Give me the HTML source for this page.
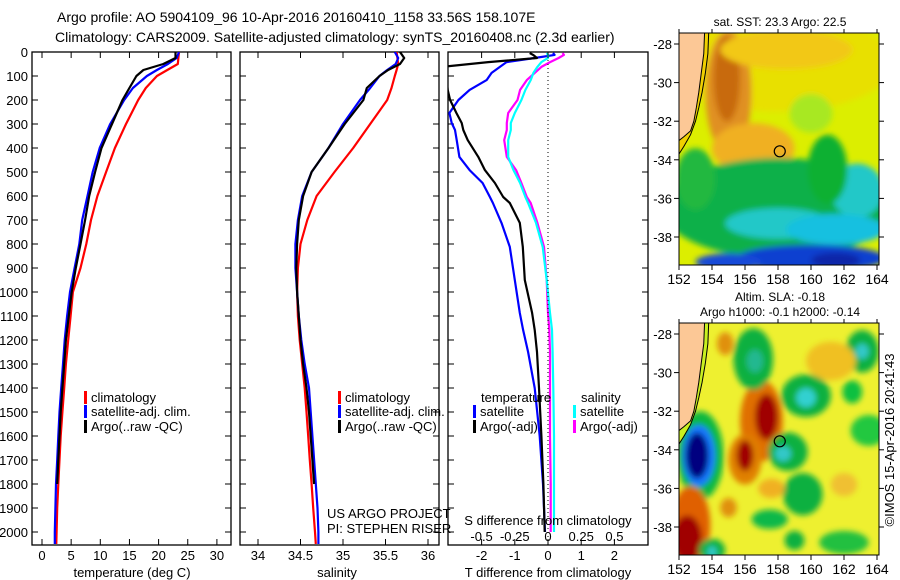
<!DOCTYPE html>
<html><head><meta charset="utf-8"><style>
html,body{margin:0;padding:0;background:#fff;}
svg{display:block;font-family:"Liberation Sans",sans-serif;}
</style></head><body>
<svg id="fig" width="900" height="580" viewBox="0 0 900 580" xmlns="http://www.w3.org/2000/svg">
<defs>
<clipPath id="c1"><rect x="32" y="52" width="199" height="493"/></clipPath>
<clipPath id="c2"><rect x="240" y="52" width="199" height="493"/></clipPath>
<clipPath id="c3"><rect x="448" y="52" width="200" height="493"/></clipPath>
<clipPath id="cm1"><rect x="679" y="33" width="200" height="232"/></clipPath>
<clipPath id="cm2"><rect x="679" y="323" width="200" height="232"/></clipPath>
<filter id="bl" x="-50%" y="-50%" width="200%" height="200%"><feGaussianBlur stdDeviation="5"/></filter>
<filter id="bl2" x="-50%" y="-50%" width="200%" height="200%"><feGaussianBlur stdDeviation="3"/></filter>
</defs>
<g font-size="14" fill="#000">
<text x="57" y="22">Argo profile: AO 5904109_96 10-Apr-2016 20160410_1158 33.56S 158.107E</text>
<text x="55" y="42">Climatology: CARS2009. Satellite-adjusted climatology: synTS_20160408.nc (2.3d earlier)</text>
</g>
<g id="charts"></g>
<g id="maps"></g>
</svg>
<script>
const NS='http://www.w3.org/2000/svg';
const depths=[0,25,50,75,100,150,200,300,400,500,600,700,800,900,1000,1100,1200,1300,1400,1500,1600,1700,1800,1900,2000,2050];
const tempClim=[23.5,23.4,23.3,21.5,19.7,17.8,16.5,14.4,12.5,11.0,9.5,8.4,7.6,6.6,5.3,4.9,4.5,4.1,3.8,3.5,3.2,3.0,2.8,2.6,2.5,2.45];
const tempSat=[23.5,23.1,21.6,19.7,18.0,15.6,14.1,11.7,9.9,8.7,7.8,6.9,6.4,5.6,4.8,4.3,3.9,3.6,3.3,3.0,2.8,2.6,2.4,2.3,2.2,2.2];
const tempArgoDepths=[0,25,50,75,100,150,200,300,400,500,600,700,800,900,1000,1100,1200,1300,1400,1500,1600,1700,1800];
const tempArgo=[22.9,22.9,20.8,17.4,16.2,15.0,13.8,12.0,10.2,9.1,8.1,7.4,6.6,5.8,5.1,4.6,4.1,3.8,3.5,3.2,3.0,2.8,2.6];
const salClim=[35.63,35.64,35.65,35.63,35.61,35.57,35.52,35.32,35.12,34.90,34.69,34.58,34.50,34.47,34.46,34.47,34.49,34.52,34.55,34.57,34.59,34.61,34.63,34.65,34.67,34.68];
const salSat=[35.61,35.65,35.62,35.52,35.43,35.32,35.20,35.00,34.83,34.63,34.52,34.47,34.44,34.44,34.46,34.48,34.51,34.55,34.60,34.62,34.64,34.66,34.68,34.70,34.71,34.71];
const salArgo=[35.67,35.72,35.67,35.53,35.43,35.28,35.24,35.02,34.83,34.63,34.53,34.48,34.46,34.45,34.46,34.48,34.50,34.53,34.57,34.60,34.62,34.64,34.66];
const diffDepths=[4,12,25,42,62,87,117,158,200,254,296,325,367,437,492,546,604,629,712,812,950,1087,1158,1250,1400,1600,1800,2000];
const dTsat=[0.15,0.2,-0.4,-1.25,-1.45,-1.7,-1.85,-2.36,-2.7,-2.97,-2.9,-2.8,-2.75,-2.67,-2.36,-1.97,-1.75,-1.66,-1.4,-1.15,-1.0,-0.85,-0.75,-0.6,-0.4,-0.25,-0.15,-0.09];
const dTargo=[-0.55,-0.45,-0.33,-1.8,-3.2,-3.1,-3.05,-3.02,-2.95,-2.76,-2.6,-2.55,-2.42,-2.1,-1.9,-1.6,-1.35,-1.15,-0.85,-0.76,-0.7,-0.48,-0.4,-0.33,-0.27,-0.2,-0.14,-0.1];
const dSsat=[-0.01,0.0,0.0,-0.05,-0.08,-0.11,-0.13,-0.17,-0.2,-0.25,-0.28,-0.28,-0.3,-0.3,-0.26,-0.21,-0.17,-0.15,-0.09,-0.04,-0.01,0.015,0.03,0.035,0.04,0.045,0.045,0.045];
const dSargo=[0.11,0.12,0.08,0.016,-0.05,-0.1,-0.16,-0.21,-0.23,-0.3,-0.31,-0.31,-0.33,-0.31,-0.24,-0.2,-0.16,-0.13,-0.08,-0.03,-0.01,0.0,0.01,0.015,0.015,0.015,0.02,0.02];
const depthTicks=[0,100,200,300,400,500,600,700,800,900,1000,1100,1200,1300,1400,1500,1600,1700,1800,1900,2000];
const tempTicks=[0,5,10,15,20,25,30];
const salTicks=[34,34.5,35,35.5,36];
const salTickLabels=['34','34.5','35','35.5','36'];
const dTTicks=[-2,-1,0,1,2];
const dSTicks=[-0.5,-0.25,0,0.25,0.5];
const dSTickLabels=['-0.5','-0.25','0','0.25','0.5'];

const yD=d=>52+d*0.24;
const xT=t=>42+t*5.83;
const xS=s=>258+(s-34)*85;
const xDT=v=>548+v*33.2;
const xDS=v=>548+v*132.8;
const Y0=52,Y1=545;

function mk(tag,attrs,parent){const e=document.createElementNS(NS,tag);for(const k in attrs)e.setAttribute(k,attrs[k]);parent.appendChild(e);return e;}
const charts=document.getElementById('charts');

function panel(name,x0,x1,clip){
  const g=mk('g',{},charts);
  
  
  const r=mk('rect',{x:x0,y:Y0,width:x1-x0,height:Y1-Y0,fill:'none',stroke:'#000','stroke-width':1.3},g);
  
  
  depthTicks.forEach(d=>{
    mk('line',{x1:x0,x2:x0+6,y1:yD(d),y2:yD(d),stroke:'#000','stroke-width':1},g);
    mk('line',{x1:x1-6,x2:x1,y1:yD(d),y2:yD(d),stroke:'#000','stroke-width':1},g);
  });
  const lg=mk('g',{'clip-path':'url(#'+clip+')'},g);
  return {g,lg};
}
function line(parent,xs,ds,fx,color,name){
  const pts=xs.map((v,i)=>fx(v).toFixed(1)+','+yD(ds[i]).toFixed(1)).join(' ');
  const p=mk('polyline',{points:pts,fill:'none',stroke:color,'stroke-width':2.2,'stroke-linejoin':'round'},parent);
  
  
}
function txt(parent,x,y,s,attrs,name){
  const t=mk('text',Object.assign({x:x,y:y,'font-size':13},attrs||{}),parent);
  t.textContent=s;
  
  
  return t;
}
function xticks(g,vals,fx,labels,ly){
  vals.forEach((v,i)=>{
    mk('line',{x1:fx(v),x2:fx(v),y1:Y1,y2:Y1-6,stroke:'#000'},g);
    mk('line',{x1:fx(v),x2:fx(v),y1:Y0,y2:Y0+6,stroke:'#000'},g);
    if(labels) txt(g,fx(v),ly,labels[i],{'text-anchor':'middle'},'x-tick-label');
  });
}
// depth labels
const dl=mk('g',{},charts);


depthTicks.forEach(d=>txt(dl,28,yD(d)+5,String(d),{'text-anchor':'end'},'depth-tick-label'));

// legend helper
function legendEntry(g,x,y,color,label){
  const lg=mk('g',{},g);
  
  
  mk('rect',{x:x,y:y-11,width:3,height:13,fill:color},lg);
  txt(lg,x+7,y,label,{},'legend-label');
}

// Panel 1: temperature
let P=panel('temperature-panel',32,231,'c1');
xticks(P.g,tempTicks,xT,tempTicks.map(String),560);
line(P.lg,tempClim,depths,xT,'#ff0000','temp-climatology-line');
line(P.lg,tempSat,depths,xT,'#0000ff','temp-satellite-line');
line(P.lg,tempArgo,tempArgoDepths,xT,'#000000','temp-argo-line');
txt(P.g,132,577,'temperature (deg C)',{'text-anchor':'middle'},'x-axis-title');
legendEntry(P.g,84,402,'#ff0000','climatology');
legendEntry(P.g,84,416,'#0000ff','satellite-adj. clim.');
legendEntry(P.g,84,431,'#000000','Argo(..raw -QC)');

// Panel 2: salinity
P=panel('salinity-panel',240,439,'c2');
xticks(P.g,salTicks,xS,salTickLabels,560);
line(P.lg,salClim,depths,xS,'#ff0000','sal-climatology-line');
line(P.lg,salSat,depths,xS,'#0000ff','sal-satellite-line');
line(P.lg,salArgo,tempArgoDepths,xS,'#000000','sal-argo-line');
txt(P.g,337,577,'salinity',{'text-anchor':'middle'},'x-axis-title');
legendEntry(P.g,338,402,'#ff0000','climatology');
legendEntry(P.g,338,416,'#0000ff','satellite-adj. clim.');
legendEntry(P.g,338,431,'#000000','Argo(..raw -QC)');
txt(P.g,327,518,'US ARGO PROJECT',{},'credit-project');
txt(P.g,327,533,'PI: STEPHEN RISER',{},'credit-pi');

// Panel 3: differences
P=panel('difference-panel',448,648,'c3');
xticks(P.g,dTTicks,xDT,dTTicks.map(String),560);
mk('line',{x1:xDT(0),x2:xDT(0),y1:Y0,y2:Y1,stroke:'#000','stroke-dasharray':'1,3'},P.g);
line(P.lg,dTsat,diffDepths,xDT,'#0000ff','dT-satellite-line');
line(P.lg,dTargo,diffDepths,xDT,'#000000','dT-argo-line');
line(P.lg,dSargo,diffDepths,xDS,'#ff00ff','dS-argo-line');
line(P.lg,dSsat,diffDepths,xDS,'#00ffff','dS-satellite-line');
dSTicks.forEach((v,i)=>txt(P.g,xDS(v),541,dSTickLabels[i],{'text-anchor':'middle'},'s-tick-label'));
txt(P.g,548,525,'S difference from climatology',{'text-anchor':'middle'},'s-axis-title');
txt(P.g,548,577,'T difference from climatology',{'text-anchor':'middle'},'x-axis-title');
txt(P.g,481,402,'temperature',{},'legend-header-temperature');
txt(P.g,581,402,'salinity',{},'legend-header-salinity');
legendEntry(P.g,473,416,'#0000ff','satellite');
legendEntry(P.g,473,431,'#000000','Argo(-adj)');
legendEntry(P.g,573,416,'#00ffff','satellite');
legendEntry(P.g,573,431,'#ff00ff','Argo(-adj)');

// ---------- Maps ----------
const lonTicks=[152,154,156,158,160,162,164];
const latTicks=[-28,-30,-32,-34,-36,-38];
const argoLon=158.107, argoLat=-33.56;
const sstBlobs=[
 [158,-29,7,2.5,'#e8e000'],[155,-30.5,1.4,3.2,'#e09020'],[154.9,-29.8,0.8,2.2,'#c86a10'],
 [156.5,-33.4,2.5,1.3,'#f0b020'],[158.5,-28.3,4,1,'#f2c818'],[160,-31.6,1.3,1,'#a8e820'],
 [158,-36.5,7,2.6,'#10b048'],[153,-35,1.2,1.6,'#20b840'],[158,-37.3,3.2,0.8,'#20c8c8'],
 [162.8,-35.6,1.6,1.4,'#20c8c8'],[161.5,-37.6,3,0.8,'#18c0e0'],[161,-34.5,1.2,1.8,'#10b030'],
 [160,-39.1,4.5,0.7,'#1040d0'],[155,-39.3,2,0.45,'#1848d8'],[161.5,-39.2,1.5,0.4,'#0828a8']
];
const slaBlobs=[
 [153.3,-34.3,1.4,2.3,'#10b840'],[153.2,-34.3,1.0,1.6,'#1878ff'],[153.1,-34.3,0.7,1.2,'#000080'],
 [157,-32.5,1.3,2.1,'#e07000'],[157.3,-32.3,0.7,1.2,'#a00000'],
 [156,-34.5,1,1.3,'#e08000'],[156,-34.3,0.5,0.8,'#a00000'],
 [152.7,-37.9,1.2,2,'#e06000'],[152.5,-38.6,0.9,1.2,'#a00000'],
 [159.7,-31.2,1.5,1.1,'#10b040'],[159.7,-31.3,0.6,0.5,'#30d0d0'],
 [158.6,-34.1,1.2,1,'#10b040'],[158.3,-34.2,0.5,0.4,'#30c8c8'],
 [156.5,-29.3,1.2,1.6,'#10b040'],[156.6,-29.4,0.5,0.6,'#20b890'],
 [163.1,-28.9,1,1.1,'#10b040'],[163.1,-28.9,0.4,0.4,'#30c8c8'],
 [159.5,-36.3,1.2,1.1,'#10b040'],[162.5,-31,0.6,0.6,'#10c040'],[163.5,-33,1.1,0.8,'#20c840'],
 [157.5,-37.6,1.1,0.5,'#10b848'],[154,-39.2,0.8,0.6,'#10b040'],[154,-39.3,0.3,0.3,'#30c8c8'],
 [159,-38.7,0.6,0.5,'#10b040'],[162,-38.8,1.5,0.6,'#20c040'],
 [154.8,-28.5,0.5,0.6,'#e09010'],[161.2,-29.4,1.5,1,'#f0c020'],[157.6,-36,0.8,0.5,'#f0b020'],
 [155,-37,0.5,0.5,'#e09010'],[162,-35.8,0.8,0.6,'#f0c030']
];
const coastLon=[153.55,153.5,153.35,153.2,153.05,152.9,152.7,152.3,152.0,151.5];
const coastLat=[-27.4,-28.5,-29.5,-30.5,-31.3,-32.0,-32.5,-32.8,-33.0,-33.0];
const shelfLon=[153.8,153.75,153.6,153.4,153.2,153.0,152.7,152.3,152.0];
const shelfLat=[-27.4,-28.5,-29.5,-30.5,-31.3,-32.0,-32.7,-33.3,-33.7];

const maps=document.getElementById('maps');
function drawMap(name,oy,clip,base,blobs,stripColor,title){
  const mx=lon=>679+(lon-152)*16.5;
  const my=lat=>oy+(-27.43-lat)*19.3;
  const g=mk('g',{},maps);
  
  
  const inner=mk('g',{'clip-path':'url(#'+clip+')'},g);
  mk('rect',{x:679,y:oy,width:200,height:232,fill:base},inner);
  const bg=mk('g',{filter:'url(#bl2)'},inner);
  blobs.forEach(b=>{
    const e=mk('ellipse',{cx:mx(b[0]),cy:my(b[1]),rx:b[2]*16.5,ry:b[3]*19.3,fill:b[4]},bg);
    
    
  });
  // shelf strip
  let sp=shelfLon.map((l,i)=>mx(l)+','+my(shelfLat[i])).join(' ');
  mk('polygon',{points:'679,'+my(-27.43)+' '+sp+' 679,'+my(-33.7),fill:stripColor},inner);
  mk('polyline',{points:sp,fill:'none',stroke:'#000','stroke-width':1},inner);
  let cp=coastLon.map((l,i)=>mx(l)+','+my(coastLat[i])).join(' ');
  const land=mk('polygon',{points:'679,'+oy+' '+cp+' 679,'+my(-33.0),fill:'#fcc896',stroke:'#000','stroke-width':1},inner);
  
  
  const c=mk('circle',{cx:mx(argoLon),cy:my(argoLat),r:5.5,fill:'none',stroke:'#000','stroke-width':1.2},g);
  
  
  mk('rect',{x:679,y:oy,width:200,height:232,fill:'none',stroke:'#000','stroke-width':1},g);
  lonTicks.forEach(l=>{
    mk('line',{x1:mx(l),x2:mx(l),y1:oy+232,y2:oy+237,stroke:'#000'},g);
    mk('line',{x1:mx(l),x2:mx(l),y1:oy,y2:oy-4,stroke:'#000'},g);
    txt(g,mx(l),oy+251,String(l),{'text-anchor':'middle','font-size':14},'lon-tick-label');
  });
  latTicks.forEach(l=>{
    mk('line',{x1:674,x2:679,y1:my(l),y2:my(l),stroke:'#000'},g);
    mk('line',{x1:879,x2:884,y1:my(l),y2:my(l),stroke:'#000'},g);
    txt(g,672,my(l)+5,String(l),{'text-anchor':'end','font-size':13},'lat-tick-label');
  });
  title.forEach((t,i)=>txt(g,780,oy-(title.length-1-i)*15-7,t,{'text-anchor':'middle','font-size':12},'map-title'));
}
drawMap('sst-map',33,'cm1','#dcee00',sstBlobs,'#f0d000',['sat. SST: 23.3 Argo: 22.5']);
drawMap('sla-map',323,'cm2','#eef030',slaBlobs,'#c8f020',['Altim. SLA: -0.18','Argo h1000: -0.1 h2000: -0.14']);
const stamp=txt(maps,0,0,'©IMOS 15-Apr-2016 20:41:43',{'text-anchor':'middle','font-size':13,transform:'translate(894,440) rotate(-90)'},'imos-timestamp');
</script>
</body></html>
